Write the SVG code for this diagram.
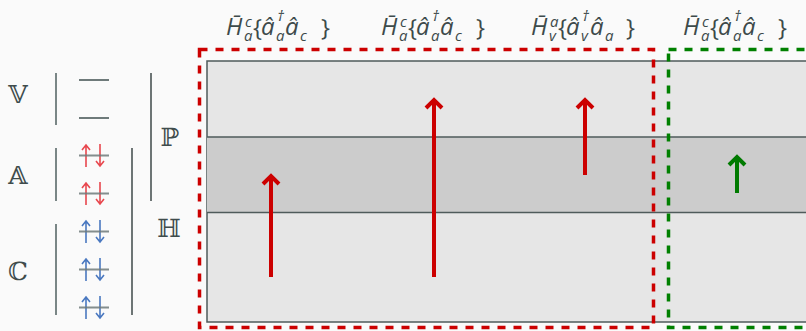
<svg xmlns="http://www.w3.org/2000/svg" width="806" height="331" viewBox="0 0 806 331">
<style>
.m{font-family:"Open Sans","DejaVu Sans",sans-serif;font-style:italic;font-size:24px;fill:#3d4a4a}
.m .sm{font-size:15px}
.m .up{font-style:normal}
.ds{font-family:"DejaVu Serif","DejaVu Sans",serif;font-size:25px;fill:#3f4c4c;text-anchor:middle}
.bar{stroke:#7a8686;stroke-width:2;fill:none}
.brk{stroke:#3f4a4a;stroke-width:1.5;fill:none}
.lvl{stroke:#6e7a7a;stroke-width:2;fill:none}
.sa{stroke-width:1.6;fill:none}
.r{stroke:#e8474e}
.b{stroke:#4a78c0}
.big{stroke-width:4;fill:none;stroke-linejoin:miter}
.red{stroke:#cc0000}
.grn{stroke:#007a00}
.band{stroke:#4f5b5b;stroke-width:1.5}
.dash{fill:none;stroke-width:3.5;stroke-dasharray:8 8}
</style>
<rect width="806" height="331" fill="#fafafa"/>

<g id="labels-top">
<text class="m" id="lbl1"><tspan x="226" y="35">H̄</tspan><tspan class="sm" x="245" y="27">c</tspan><tspan class="sm" x="244" y="41">a</tspan><tspan class="up" x="253" y="36">{</tspan><tspan x="261" y="35">â</tspan><tspan class="sm" x="277" y="21">†</tspan><tspan class="sm" x="276" y="41">a</tspan><tspan x="285" y="35">â</tspan><tspan class="sm" x="300" y="41">c</tspan><tspan class="up" x="321" y="36">}</tspan></text>
<text class="m" id="lbl2" transform="translate(155,0)"><tspan x="226" y="35">H̄</tspan><tspan class="sm" x="245" y="27">c</tspan><tspan class="sm" x="244" y="41">a</tspan><tspan class="up" x="253" y="36">{</tspan><tspan x="261" y="35">â</tspan><tspan class="sm" x="277" y="21">†</tspan><tspan class="sm" x="276" y="41">a</tspan><tspan x="285" y="35">â</tspan><tspan class="sm" x="300" y="41">c</tspan><tspan class="up" x="321" y="36">}</tspan></text>
<text class="m" id="lbl3" transform="translate(305,0)"><tspan x="226" y="35">H̄</tspan><tspan class="sm" x="245" y="27">a</tspan><tspan class="sm" x="244" y="41">v</tspan><tspan class="up" x="253" y="36">{</tspan><tspan x="261" y="35">â</tspan><tspan class="sm" x="277" y="21">†</tspan><tspan class="sm" x="276" y="41">v</tspan><tspan x="285" y="35">â</tspan><tspan class="sm" x="300" y="41">a</tspan><tspan class="up" x="321" y="36">}</tspan></text>
<text class="m" id="lbl4" transform="translate(457,0)"><tspan x="226" y="35">H̄</tspan><tspan class="sm" x="245" y="27">c</tspan><tspan class="sm" x="244" y="41">a</tspan><tspan class="up" x="253" y="36">{</tspan><tspan x="261" y="35">â</tspan><tspan class="sm" x="277" y="21">†</tspan><tspan class="sm" x="276" y="41">a</tspan><tspan x="285" y="35">â</tspan><tspan class="sm" x="300" y="41">c</tspan><tspan class="up" x="321" y="36">}</tspan></text>
</g>

<g id="orbital-diagram">
<text class="ds" x="18" y="103">𝕍</text>
<text class="ds" x="18" y="184">𝔸</text>
<text class="ds" x="18" y="280">ℂ</text>
<text class="ds" x="170" y="146">ℙ</text>
<text class="ds" x="169" y="237">ℍ</text>
<path class="bar" d="M56,73V125M56,148V201M56,224V315"/>
<path class="brk" d="M151,73V201M132,148V315"/>
<g id="arrows-a">
<path class="sa r" d="M86,167V145M82,150L86,145L90,150M100,144V166M96,161L100,166L104,161"/>
<path class="sa r" transform="translate(0,38)" d="M86,167V145M82,150L86,145L90,150M100,144V166M96,161L100,166L104,161"/>
</g>
<g id="arrows-c">
<path class="sa b" transform="translate(0,76)" d="M86,167V145M82,150L86,145L90,150M100,144V166M96,161L100,166L104,161"/>
<path class="sa b" transform="translate(0,114)" d="M86,167V145M82,150L86,145L90,150M100,144V166M96,161L100,166L104,161"/>
<path class="sa b" transform="translate(0,152)" d="M86,167V145M82,150L86,145L90,150M100,144V166M96,161L100,166L104,161"/>
</g>
<path class="lvl" d="M79,80H109M79,118H109"/>
<path class="lvl" d="M79,155.5H109M79,193.5H109M79,231.5H109M79,269.5H109M79,307.5H109" opacity="0.85"/>
</g>

<g id="space">
<rect x="207" y="61" width="620" height="261" fill="#e6e6e6" stroke="#4f5b5b" stroke-width="1.5"/>
<rect x="207" y="137" width="620" height="75.5" fill="#cccccc"/>
<path class="band" d="M207,137H806M207,212.5H806"/>
</g>

<g id="connectors">
<path class="big red" d="M271,277V176M263,184L271,176L279,184"/>
<path class="big red" d="M434,277V100M426,108L434,100L442,108"/>
<path class="big red" d="M585,175V100M577,108L585,100L593,108"/>
<path class="big grn" d="M737,193V157M729,165L737,157L745,165"/>
</g>

<g id="groups">
<rect class="dash" x="199.5" y="49.5" width="454" height="278" stroke="#cc0000"/>
<rect class="dash" x="668.5" y="49.5" width="200" height="278" stroke="#008000"/>
</g>
</svg>
